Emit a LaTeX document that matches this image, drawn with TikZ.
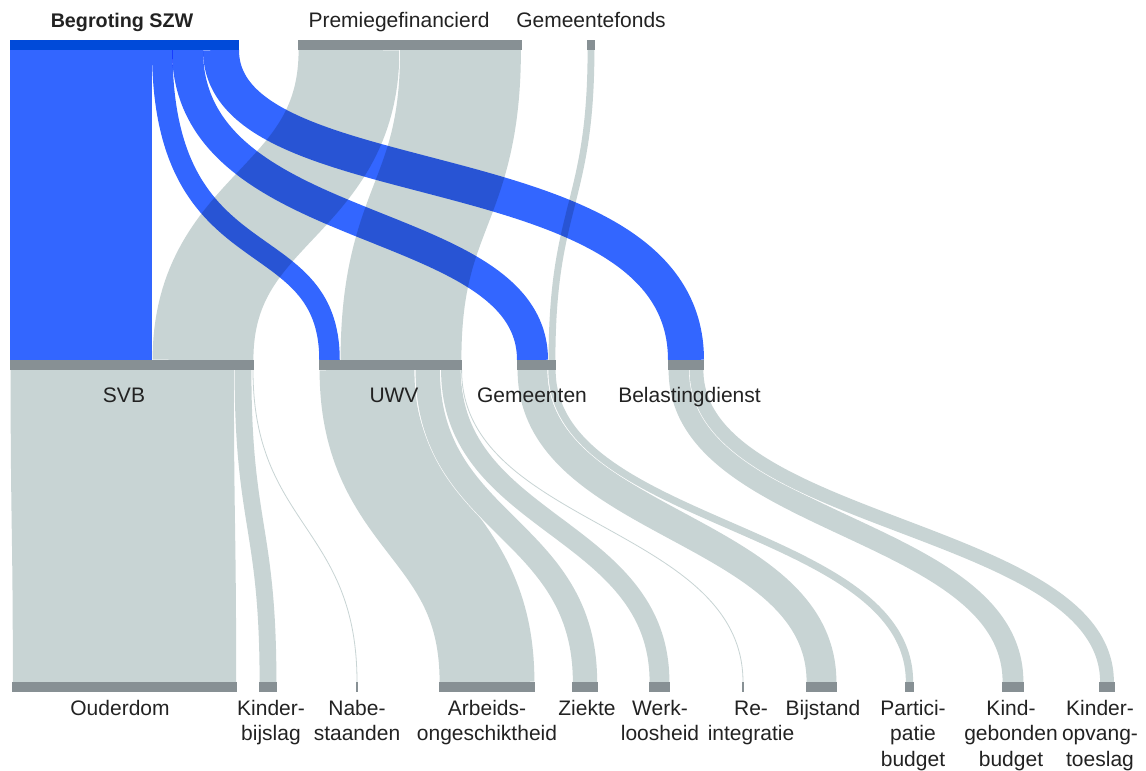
\documentclass[tikz,border=0pt]{standalone}
\usepackage{fontspec}
\setmainfont{Liberation Sans}
\definecolor{linkblue}{HTML}{3366FF}
\definecolor{barblue}{HTML}{004AD9}
\definecolor{bargray}{HTML}{879094}
\definecolor{linkgray}{HTML}{C8D4D4}
\definecolor{txt}{HTML}{222222}
% gray link: width, x source, y source, x target, y target
\newcommand{\glink}[5]{%
  \draw[white, line width={#1*0.75pt}] (#2,#3) .. controls (#2,{(#3+#5)/2}) and (#4,{(#3+#5)/2}) .. (#4,#5);
  \draw[linkgray, line width={max(#1-1.2,0.8)*0.75pt}] (#2,#3) .. controls (#2,{(#3+#5)/2}) and (#4,{(#3+#5)/2}) .. (#4,#5);}
% blue link: width, x source, y source, x target, y target, control fractions a, b
\newcommand{\blink}[7]{%
  \draw[linkblue, line width={#1*0.75pt}] (#2,#3) .. controls (#2,{#3+#6*(#5-#3)}) and (#4,{#3+#7*(#5-#3)}) .. (#4,#5);}
\begin{document}
\begin{tikzpicture}[x=0.75pt,y=-0.75pt,
  font=\fontsize{15.75}{19}\selectfont,
  lbl/.style={anchor=base, inner sep=0pt, text=txt}]
\useasboundingbox (0,0) rectangle (1146,771);

% ---- gray links, top -> middle
\glink{102}{349}{50}{203}{360}
\glink{122}{460.5}{50}{401}{360}
\glink{8}{591}{50}{552}{360}
% ---- gray links, middle -> bottom
\glink{224.5}{122.25}{370}{124.5}{682}
\glink{18}{243}{370}{268}{682}
\glink{2}{253}{370}{357}{682}
\glink{96}{367}{370}{487}{682}
\glink{25.5}{427.75}{370}{585}{682}
\glink{21}{451}{370}{659.5}{682}
\glink{1.8}{461.6}{370}{743}{682}
\glink{31}{532.5}{370}{821.5}{682}
\glink{8.5}{552}{370}{909.5}{682}
\glink{22}{679}{370}{1013}{682}
\glink{15}{696.5}{370}{1107}{682}

% ---- blue links (multiplied over the gray ones)
\begin{scope}[blend mode=multiply]
  \blink{142}{81}{50}{81}{360}{0.5}{0.5}
  \blink{20.5}{162.25}{50}{329.5}{360}{0.75}{0.55}
  \blink{31}{187.5}{50}{532.5}{360}{0.62}{0.52}
  \blink{36}{221}{50}{686}{360}{0.5}{0.3}
\end{scope}

% ---- bars
\fill[barblue] (10,40) rectangle (239,50);
\fill[bargray] (298,40) rectangle (522,50);
\fill[bargray] (587,40) rectangle (595,50);
\fill[bargray] (10,360) rectangle (254,370);
\fill[bargray] (319,360) rectangle (462,370);
\fill[bargray] (517,360) rectangle (556,370);
\fill[bargray] (668,360) rectangle (704,370);
\fill[bargray] (12,682) rectangle (237,692);
\fill[bargray] (259,682) rectangle (277,692);
\fill[bargray] (356,682) rectangle (358,692);
\fill[bargray] (439,682) rectangle (535,692);
\fill[bargray] (572,682) rectangle (598,692);
\fill[bargray] (649,682) rectangle (670,692);
\fill[bargray] (742,682) rectangle (744,692);
\fill[bargray] (806,682) rectangle (837,692);
\fill[bargray] (905,682) rectangle (914,692);
\fill[bargray] (1002,682) rectangle (1024,692);
\fill[bargray] (1099,682) rectangle (1115,692);

% ---- labels, top
\node[lbl, font=\fontsize{14.8}{19}\selectfont\bfseries] (tBeg) at (122,27) {Begroting SZW};
\node[lbl] (tPre) at (399,27) {Premiegefinancierd};
\node[lbl] (tGf) at (591,27) {Gemeentefonds};
% ---- labels, middle
\node[lbl] (mSVB) at (124,402) {SVB};
\node[lbl] (mUWV) at (394,402) {UWV};
\node[lbl] (mGem) at (532,402) {Gemeenten};
\node[lbl] (mBel) at (689.5,402) {Belastingdienst};
% ---- labels, bottom
\node[lbl] (bOud) at (120,715) {Ouderdom};
\node[lbl] (bKb1) at (271,715) {Kinder-};
\node[lbl] (bKb2) at (271,740.5) {bijslag};
\node[lbl] (bNb1) at (357,715) {Nabe-};
\node[lbl] (bNb2) at (357,740.5) {staanden};
\node[lbl] (bAo1) at (487,715) {Arbeids-};
\node[lbl] (bAo2) at (487,740.5) {ongeschiktheid};
\node[lbl] (bZk) at (587,715) {Ziekte};
\node[lbl] (bWl1) at (660,715) {Werk-};
\node[lbl] (bWl2) at (660,740.5) {loosheid};
\node[lbl] (bRi1) at (751,715) {Re-};
\node[lbl] (bRi2) at (751,740.5) {integratie};
\node[lbl] (bBs) at (823,715) {Bijstand};
\node[lbl] (bPb1) at (913,715) {Partici-};
\node[lbl] (bPb2) at (913,740.5) {patie};
\node[lbl] (bPb3) at (913,766) {budget};
\node[lbl] (bKg1) at (1011,715) {Kind-};
\node[lbl] (bKg2) at (1011,740.5) {gebonden};
\node[lbl] (bKg3) at (1011,766) {budget};
\node[lbl] (bKo1) at (1100,715) {Kinder-};
\node[lbl] (bKo2) at (1100,740.5) {opvang-};
\node[lbl] (bKo3) at (1100,766) {toeslag};
\end{tikzpicture}
\end{document}
